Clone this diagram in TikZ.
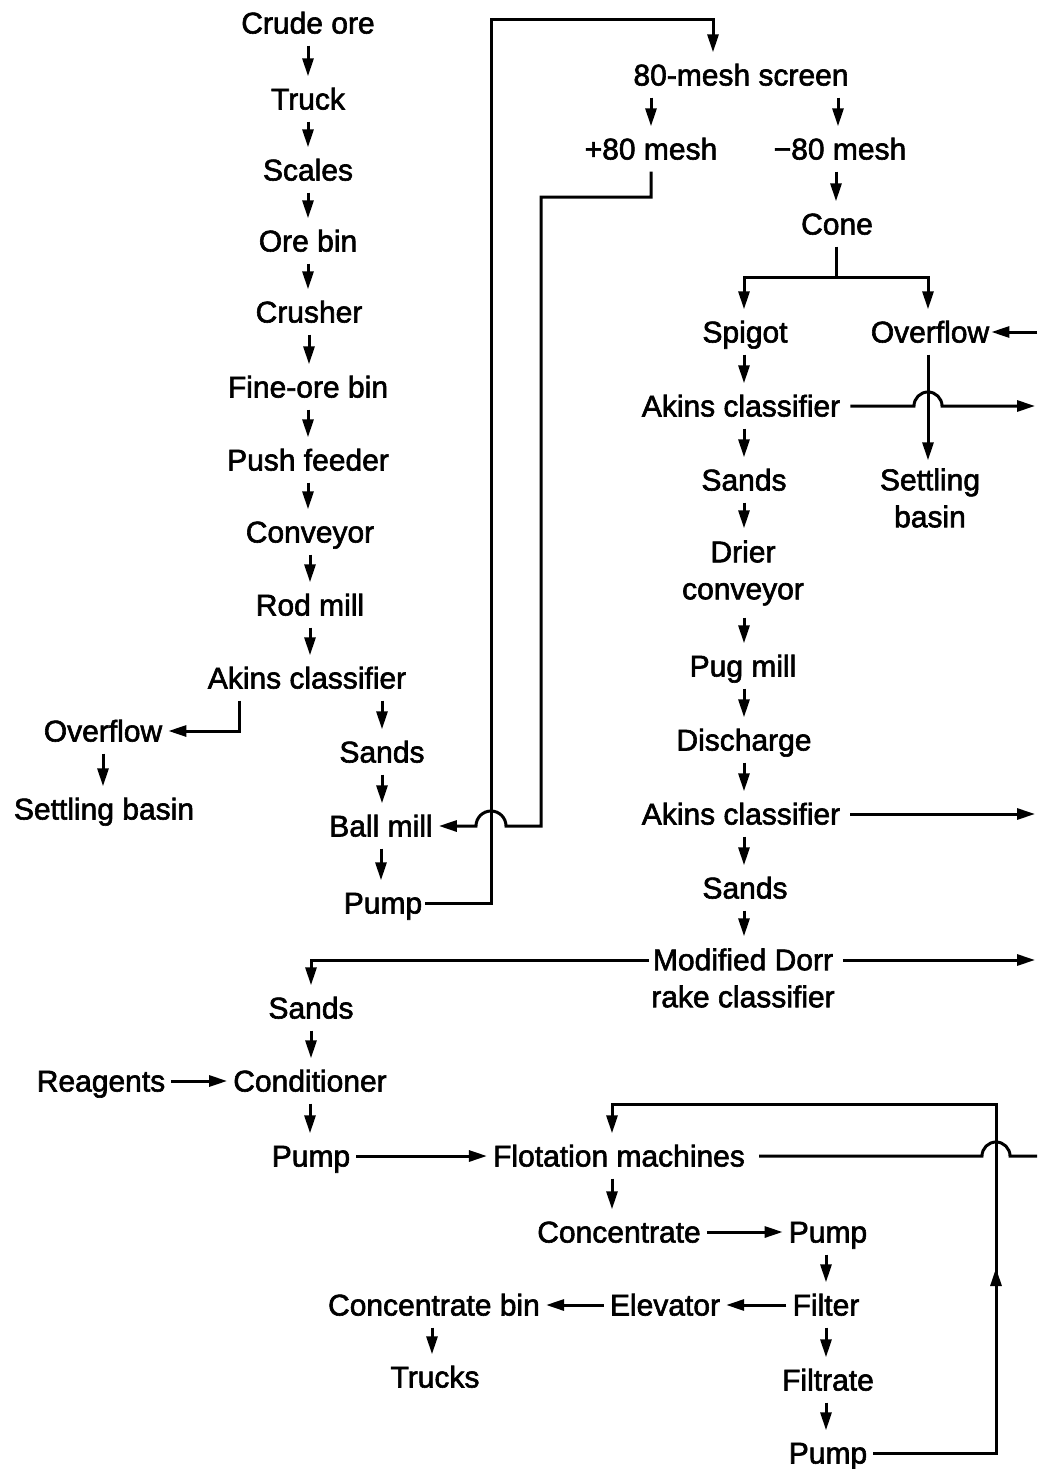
\documentclass[tikz,border=0pt]{standalone}
\usepackage{fontspec}
\newfontfamily\lab{Liberation Sans}[FakeBold=2]
\usetikzlibrary{arrows.meta,calc}
\begin{document}
\begin{tikzpicture}[x=1pt,y=-1pt,
  box/.style={font=\lab\fontsize{30}{37}\selectfont, inner xsep=6pt, inner ysep=12pt, text height=21pt, text depth=0pt},
  two/.style={box, align=center, text height=, text depth=},
  ln/.style={line width=3pt},
  arr/.style={ln, -{Triangle[length=18pt,width=11pt]}},
]
\useasboundingbox[fill=white] (0,0) rectangle (1037,1469);

% left column
\node[box] (crude)   at (308,23)  {Crude ore};
\node[box] (truck)   at (308,99)  {Truck};
\node[box] (scales)  at (308,170) {Scales};
\node[box] (orebin)  at (308,241) {Ore bin};
\node[box] (crusher) at (309,312) {Crusher};
\node[box] (fineore) at (308,387) {Fine-ore bin};
\node[box] (push)    at (308,460) {Push feeder};
\node[box] (conv)    at (310,532) {Conveyor};
\node[box] (rod)     at (310,605) {Rod mill};
\node[box] (akins1)  at (307,678) {Akins classifier};
\node[box] (over1)   at (103,731) {Overflow};
\node[box] (settle1) at (104,809) {Settling basin};
\node[box] (sands1)  at (382,752) {Sands};
\node[box] (ball)    at (381,826) {Ball mill};
\node[box] (pump1)   at (383,903) {Pump};

% right column
\node[box] (screen)  at (741,75)  {80-mesh screen};
\node[box] (plus80)  at (651,149) {+80 mesh};
\node[box] (minus80) at (840,149) {−80 mesh};
\node[box] (cone)    at (837,224) {Cone};
\node[box] (spigot)  at (745,332) {Spigot};
\node[box] (over2)   at (930,332) {Overflow};
\node[box] (akins2)  at (741,406) {Akins classifier};
\node[box] (sands2)  at (744,480) {Sands};
\node[two] (settle2) at (930,498) {Settling\\basin};
\node[two] (drier)   at (743,573) {Drier\\conveyor};
\node[box] (pug)     at (743,666) {Pug mill};
\node[box] (disch)   at (744,740) {Discharge};
\node[box] (akins3)  at (741,814) {Akins classifier};
\node[box] (sands3)  at (745,888) {Sands};
\node[two] (dorr)    at (743,978) {Modified Dorr\\rake classifier};

% lower part
\node[box] (sands4)  at (311,1008) {Sands};
\node[box] (reag)    at (101,1081) {Reagents};
\node[box] (cond)    at (310,1081) {Conditioner};
\node[box] (pump2)   at (311,1156) {Pump};
\node[box] (flot)    at (619,1156) {Flotation machines};
\node[box] (conc)    at (619,1232) {Concentrate};
\node[box] (pump3)   at (828,1232) {Pump};
\node[box] (filter)  at (826,1305) {Filter};
\node[box] (elev)    at (665,1305) {Elevator};
\node[box] (cbin)    at (434,1305) {Concentrate bin};
\node[box] (trucks)  at (435,1377) {Trucks};
\node[box] (filtr)   at (828,1380) {Filtrate};
\node[box] (pump4)   at (828,1453) {Pump};

\coordinate (edge) at (1035,0);
\coordinate (inedge) at (1037,0);

% left column arrows
\foreach \a/\b in {crude/truck,truck/scales,scales/orebin,orebin/crusher,crusher/fineore,
  fineore/push,push/conv,conv/rod,rod/akins1,sands1/ball,ball/pump1,over1/settle1,
  sands4/cond,cond/pump2}
  \draw[arr] (\a.south) -- (\a.south |- \b.north);
\draw[arr] (sands1.north |- akins1.south) -- (sands1.north);
\draw[arr] ([xshift=-68pt]akins1.south) -- ([xshift=-68pt]akins1.south |- over1.east) -- (over1.east);

% right column arrows
\draw[arr] (plus80.north |- screen.south) -- (plus80.north);
\draw[arr] ([xshift=-2pt]minus80.north |- screen.south) -- ([xshift=-2pt]minus80.north);
\draw[arr] ([xshift=-4pt]minus80.south) -- ([xshift=-4pt]minus80.south |- cone.north);
\coordinate (split) at (836,277);
\draw[ln] (cone.south -| split) -- (split);
\draw[arr] (split) -| ([xshift=-1pt]spigot.north);
\draw[arr] (split) -| ([xshift=-2pt]over2.north);
\foreach \a/\b in {spigot/akins2,akins2/sands2,sands2/drier,drier/pug,pug/disch,
  disch/akins3,akins3/sands3,sands3/dorr}
  \draw[arr] ([xshift=-1pt]spigot.south |- \a.south) -- ([xshift=-1pt]spigot.south |- \b.north);
\draw[arr] (over2.south -| 928,0) -- ([yshift=-4pt]settle2.north -| 928,0);
\draw[arr] (over2.east -| inedge) -- ([xshift=-4pt]over2.east);
\coordinate (hc2) at (928,0);
\draw[arr] ([xshift=4pt]akins2.east) -- ([xshift=-14pt]hc2 |- akins2.east)
  arc[start angle=180, end angle=0, radius=14pt] -- (akins2.east -| edge);
\draw[arr] ([xshift=4pt]akins3.east) -- (akins3.east -| edge);
\draw[arr] ([yshift=18pt,xshift=2pt]dorr.east) -- ([yshift=18pt]dorr.east -| edge);
\draw[arr] ([yshift=18pt,xshift=4pt]dorr.west) -| (sands4.north);

% ball mill loop
\coordinate (k2) at (541,197);
\coordinate (p2) at (491,20);
\draw[arr] (plus80.south) |- (k2) -- (k2 |- ball.east)
  -- ([xshift=15pt]p2 |- ball.east) arc[start angle=0, end angle=180, radius=15pt]
  -- (ball.east);
\draw[arr] ([xshift=-3pt]pump1.east) -| (p2) -| ([xshift=-28pt]screen.north);

% flotation section
\draw[arr] (reag.east) -- (cond.west);
\draw[arr] (pump2.east) -- (flot.west);
\draw[arr] ([xshift=-7pt]flot.south) -- ([xshift=-7pt]conc.north);
\draw[arr] (conc.east) -- (pump3.west);
\foreach \a/\b in {pump3/filter,filter/filtr,filtr/pump4}
  \draw[arr] ([xshift=-2pt]pump3.south |- \a.south) -- ([xshift=-2pt]pump3.south |- \b.north);
\draw[arr] (filter.west) -- (elev.east);
\draw[arr] (elev.west) -- (cbin.east);
\draw[arr] ([xshift=-2pt]cbin.south) -- ([xshift=-2pt]cbin.south |- trucks.north);

\coordinate (r1) at (996,1453);
\coordinate (r2) at (996,1104);
\draw[arr] (pump4.east) -- (r1) -- (r2) -| ([xshift=-7pt]flot.north);
\draw[arr] (r1) -- ($(r1)!0.53!(r2)$);
\draw[ln] ([xshift=8pt]flot.east) -- ([xshift=-14pt]r1 |- flot.east)
  arc[start angle=180, end angle=0, radius=14pt] -- (flot.east -| inedge);
\end{tikzpicture}
\end{document}
